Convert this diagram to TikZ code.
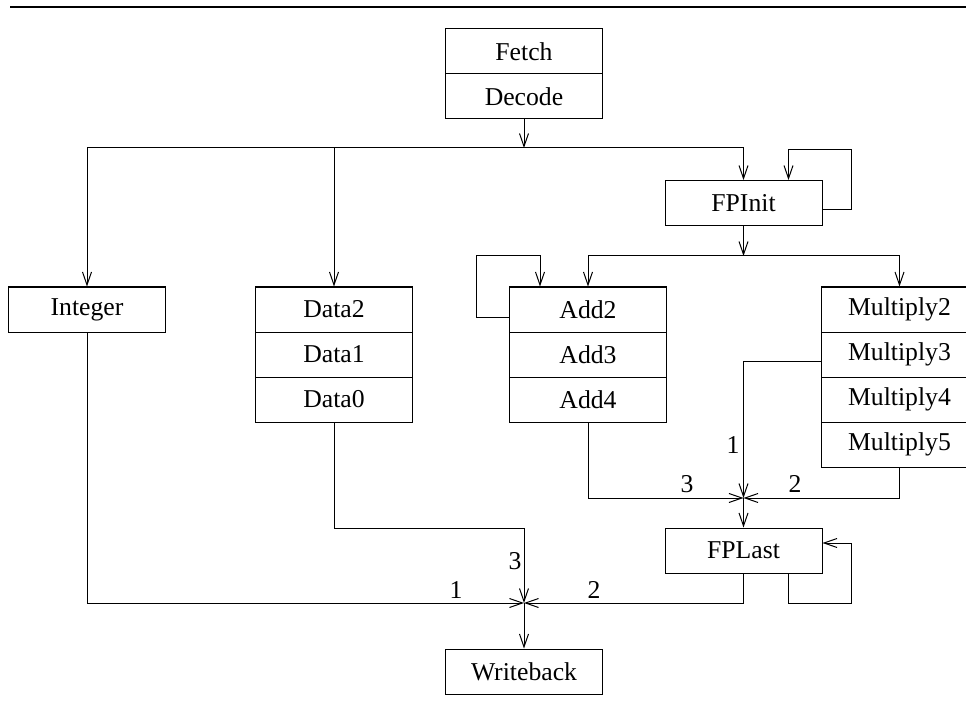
\documentclass[tikz,border=0pt]{standalone}
\usepackage{fontspec}
\setmainfont{Liberation Serif}
\usetikzlibrary{arrows.meta}
\tikzset{
  box/.style={draw, line width=1pt, rectangle, minimum width=157pt, minimum height=45pt, inner sep=0pt, font=\fontsize{25.7}{30}\selectfont},
  lbl/.style={inner sep=0pt, font=\fontsize{25.7}{30}\selectfont},
  wire/.style={line width=1pt},
  arr/.style={line width=1pt, -{Straight Barb[length=13pt,width=9pt]}},
}
\begin{document}
\begin{tikzpicture}[x=1pt,y=-1pt]
\useasboundingbox (0,0) rectangle (966,711);
\clip (0,0) rectangle (966,711);
\draw[line width=2.5pt] (10,7) -- (966,7);
% nodes
\node[box] (fetch) at (524,51.5) {Fetch};
\node[box] (decode) at (524,96.5) {Decode};
\node[box] (integer) at (87,309.5) {Integer};
\node[box] (data2) at (334,309.5) {Data2};
\node[box] (data1) at (334,354.5) {Data1};
\node[box] (data0) at (334,399.5) {Data0};
\node[box] (fpinit) at (743.5,203) {FPInit};
\node[box] (add2) at (588,309.5) {Add2};
\node[box] (add3) at (588,354.5) {Add3};
\node[box] (add4) at (588,399.5) {Add4};
\node[box] (mul2) at (899.5,309.5) {Multiply2};
\node[box] (mul3) at (899.5,354.5) {Multiply3};
\node[box] (mul4) at (899.5,399.5) {Multiply4};
\node[box] (mul5) at (899.5,444.5) {Multiply5};
\node[box] (fplast) at (743.5,550.5) {FPLast};
\node[box] (wb) at (524,671.5) {Writeback};
% coordinates
\coordinate (b1) at (524,148);
\coordinate (fl1) at (851,150);
\coordinate (b2) at (743.5,256);
\coordinate (al) at (476,256);
\coordinate (jfp) at (743.5,498);
\coordinate (fpl) at (851,603);
\coordinate (jwb) at (524,603);
\coordinate (dk) at (524,528);
% top bus
\draw[arr] (decode.south) -- (b1);
\draw[wire] (b1 -| integer) -- (b1 -| fpinit);
\draw[arr] (b1 -| integer) -- (integer.north);
\draw[arr] (b1 -| data2) -- (data2.north);
\draw[arr] (b1 -| fpinit) -- (fpinit.north);
% FPInit loop
\draw[arr] ([yshift=-7pt]fpinit.east) -| (fl1) -| ([xshift=45pt]fpinit.north);
% second bus
\draw[arr] (fpinit.south) -- (b2);
\draw[wire] (b2 -| add2) -- (b2 -| mul2);
\draw[arr] (b2 -| add2) -- (add2.north);
\draw[arr] (b2 -| mul2) -- (mul2.north);
% Add2 loop
\draw[arr] ([yshift=-7.5pt]add2.west) -| (al) -| ([xshift=-48pt]add2.north);
% into FPLast
\draw[arr] ([yshift=-6.5pt]mul3.west) -| (jfp);
\draw[arr] (mul5.south) |- (jfp);
\draw[arr] (add4.south) |- (jfp);
\draw[arr] (jfp) -- (fplast.north);
\node[lbl] (l1a) at (733,445) {1};
\node[lbl] (l2a) at (795,484) {2};
\node[lbl] (l3a) at (687,484) {3};
% FPLast loop
\draw[arr] ([xshift=45pt]fplast.south) |- (fpl) |- ([yshift=7.5pt]fplast.east);
% into Writeback
\draw[arr] (fplast.south) |- (jwb);
\draw[arr] (integer.south) |- (jwb);
\draw[wire] (data0.south) |- (dk);
\draw[arr] (dk) -- (jwb);
\draw[arr] (jwb) -- (wb.north);
\node[lbl] (l1b) at (456,590) {1};
\node[lbl] (l2b) at (594,590) {2};
\node[lbl] (l3b) at (515,561) {3};
\end{tikzpicture}
\end{document}
